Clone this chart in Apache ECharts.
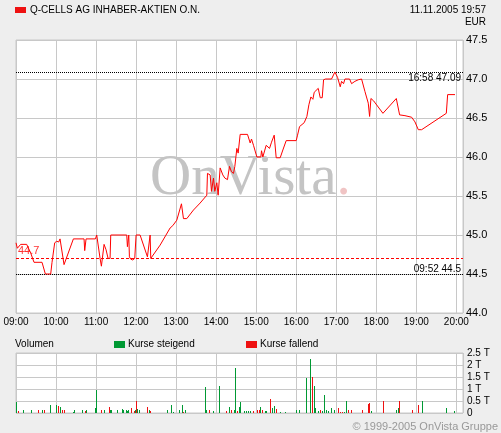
<!DOCTYPE html>
<html><head><meta charset="utf-8">
<script src="https://cdn.jsdelivr.net/npm/echarts@6/dist/echarts.min.js"></script>
<style>html,body{margin:0;padding:0;background:#eeeeee;}#c{width:501px;height:433px;}</style>
</head><body><div id="c"></div>
<script>
// minutes after 09:00
const priceTimes = [0,2,7,16,22,27,39,44,52,54,58,61,64,66,72,86,102,103,105,119,121,126,128,132,135,138,141,142,166,167,169,170,172,175,178,180,186,197,201,202,216,231,235,241,248,251,256,266,276,286,287,291,293,296,298,301,303,306,310,313,317,320,323,326,328,331,333,336,347,351,353,356,361,367,368,370,375,380,383,387,389,390,396,400,405,420,422,425,432,436,439,442,444,445,447,453,456,459,461,464,473,478,482,486,488,491,493,500,503,508,513,518,523,528,530,532,536,550,570,575,583,593,598,603,608,645,647,658];
const prices = [44.90,44.83,44.88,44.88,44.77,44.65,44.65,44.50,44.50,44.65,44.90,44.92,44.91,44.95,44.62,44.95,44.95,44.80,44.95,44.95,45.00,44.70,44.60,44.88,44.81,44.70,44.70,45.00,45.00,44.85,45.00,44.72,44.69,44.68,44.70,45.00,45.00,44.72,45.00,44.70,44.87,45.09,45.12,45.19,45.40,45.21,45.21,45.32,45.41,45.51,45.79,45.77,45.56,45.73,45.56,45.67,45.51,45.86,45.77,45.73,45.71,45.88,45.81,45.79,45.88,46.11,46.05,46.29,46.29,46.18,46.23,46.15,46.00,46.00,46.08,46.00,46.15,46.11,46.19,46.28,46.26,45.99,45.99,46.09,46.21,46.21,46.28,46.39,46.44,46.52,46.67,46.77,46.79,46.74,46.83,46.88,46.76,46.76,46.99,47.00,47.00,47.09,47.02,46.90,46.97,46.94,47.00,47.00,46.94,46.97,46.99,47.00,46.84,46.69,46.52,46.75,46.72,46.56,46.75,46.54,46.53,46.51,46.45,46.35,46.35,46.56,46.80,46.80];
const upTimes = [0,11,23,39,51,60,66,86,87,99,105,119,120,132,141,143,152,159,161,165,167,168,179,182,185,200,227,233,236,245,249,254,284,285,296,305,320,327,329,335,337,343,346,349,352,366,374,375,384,385,387,396,404,421,425,435,441,447,449,453,459,462,465,468,469,473,477,492,495,533,570,573,609,645,657];
const upVols = [0.45,0.14,0.14,0.14,0.35,0.35,0.25,0.06,0.14,0.14,0.14,0.22,0.94,0.14,0.11,0.14,0.14,0.18,0.14,0.14,0.08,0.11,0.14,0.18,0.14,0.14,0.14,0.35,0.06,0.14,0.35,0.14,1.07,0.14,0.10,1.14,0.27,0.14,1.86,0.27,0.45,0.10,0.10,0.10,0.10,0.25,0.10,0.10,0.21,0.10,0.31,0.06,0.06,0.14,0.14,1.44,2.27,1.14,0.21,0.10,0.07,0.73,0.14,0.07,0.10,0.21,0.14,0.06,0.52,0.10,0.14,0.21,0.52,0.21,0.10];
const downTimes = [3,33,42,63,69,72,104,128,140,173,177,180,197,201,251,290,315,323,332,356,362,365,369,382,390,391,444,456,484,486,489,499,503,519,528,530,551,575,595,603];
const downVols = [0.07,0.14,0.14,0.28,0.11,0.14,0.07,0.14,0.27,0.22,0.07,0.49,0.27,0.10,0.06,0.14,0.10,0.14,0.10,0.07,0.11,0.14,0.14,0.60,0.14,0.17,1.48,0.14,0.21,0.06,0.06,0.14,0.14,0.14,0.39,0.42,0.52,0.49,0.14,0.35];
const hourLabels = ['09:00','10:00','11:00','12:00','13:00','14:00','15:00','16:00','17:00','18:00','19:00','20:00'];
const volLabels = ['0','0.5 T','1 T','1.5 T','2 T','2.5 T'];
const highTime = '16:58', highValue = 47.09;
const lowTime = '09:52', lowValue = 44.5;
const prevClose = 44.7;
const title = 'Q-CELLS AG INHABER-AKTIEN O.N.';
const stamp = '11.11.2005 19:57';
const currency = 'EUR';

const FONT = '"Liberation Sans", Arial, sans-serif';
const zip = (a, b) => a.map((v, i) => [v, b[i]]);
const chart = echarts.init(document.getElementById('c'));
const txt = (x, y, text, size, color, align, extra) => Object.assign({
  type: 'text', x: x, y: y, z: 10,
  style: { text: text, fill: color, font: size + 'px ' + FONT, align: align, verticalAlign: 'middle', textAlign: align, textVerticalAlign: 'middle' }
}, extra || {});
const barItem = color => (params, api) => {
  const top = api.coord([api.value(0), api.value(1)]);
  const base = api.coord([api.value(0), 0]);
  const x = Math.floor(top[0]);
  const y = Math.round(top[1]);
  const h = Math.max(1, Math.round(base[1]) - y);
  return { type: 'rect', shape: { x: x, y: y, width: 1, height: h }, style: { fill: color } };
};

chart.setOption({
  backgroundColor: '#eeeeee',
  animation: false,
  grid: [
    { left: 16, top: 40, width: 447, height: 273, show: true, backgroundColor: '#ffffff', borderColor: '#c8c8c8', borderWidth: 1 },
    { left: 16, top: 353, width: 447, height: 60, show: true, backgroundColor: '#ffffff', borderColor: '#c8c8c8', borderWidth: 1 }
  ],
  xAxis: [
    { type: 'value', gridIndex: 0, min: 0, max: 670, interval: 60,
      axisLine: { show: false }, axisTick: { show: false },
      splitLine: { lineStyle: { color: '#c8c8c8', width: 1 } },
      axisLabel: { margin: 4, fontSize: 10, color: '#000', fontFamily: FONT,
        formatter: v => (v % 60 === 0 ? hourLabels[v / 60] : '') } },
    { type: 'value', gridIndex: 1, min: 0, max: 670, interval: 60,
      axisLine: { show: false }, axisTick: { show: false }, axisLabel: { show: false },
      splitLine: { lineStyle: { color: '#c8c8c8', width: 1 } } }
  ],
  yAxis: [
    { type: 'value', gridIndex: 0, position: 'right', min: 44, max: 47.5, interval: 0.5,
      axisLine: { show: false }, axisTick: { show: false },
      splitLine: { lineStyle: { color: '#c8c8c8', width: 1 } },
      axisLabel: { margin: 3, fontSize: 11, color: '#000', fontFamily: FONT, formatter: v => v.toFixed(1) } },
    { type: 'value', gridIndex: 1, position: 'right', min: 0, max: 2.5, interval: 0.5,
      axisLine: { show: false }, axisTick: { show: false },
      splitLine: { lineStyle: { color: '#c8c8c8', width: 1 } },
      axisLabel: { margin: 4, fontSize: 10, color: '#000', fontFamily: FONT, formatter: v => volLabels[Math.round(v * 2)] } }
  ],
  series: [
    { type: 'line', name: title, xAxisIndex: 0, yAxisIndex: 0, data: zip(priceTimes, prices),
      showSymbol: false, symbol: 'none', lineStyle: { color: '#ff0000', width: 1 }, z: 5,
      markLine: { silent: true, symbol: 'none', animation: false,
        data: [
          { yAxis: highValue, lineStyle: { color: '#000', type: 'dotted', width: 1 },
            label: { show: true, position: 'insideEndBottom', distance: [2, 1], formatter: highTime + ' ' + highValue.toFixed(2), color: '#000', fontSize: 10, fontFamily: FONT } },
          { yAxis: lowValue, lineStyle: { color: '#000', type: 'dotted', width: 1 },
            label: { show: true, position: 'insideEndTop', distance: [2, 0], formatter: lowTime + ' ' + lowValue.toFixed(1), color: '#000', fontSize: 10, fontFamily: FONT } },
          { yAxis: prevClose, lineStyle: { color: '#ff0000', type: [3, 2], width: 1 },
            label: { show: true, position: 'insideStartTop', distance: [2, 2], formatter: prevClose.toFixed(1), color: '#ff3333', fontSize: 11, fontFamily: FONT } }
        ] } },
    { type: 'custom', name: 'Kurse steigend', xAxisIndex: 1, yAxisIndex: 1, data: zip(upTimes, upVols),
      encode: { x: 0, y: 1 }, renderItem: barItem('#009933'), z: 5 },
    { type: 'custom', name: 'Kurse fallend', xAxisIndex: 1, yAxisIndex: 1, data: zip(downTimes, downVols),
      encode: { x: 0, y: 1 }, renderItem: barItem('#ee1111'), z: 5 }
  ],
  graphic: [
    { type: 'rect', x: 15, y: 7, shape: { width: 11, height: 6 }, style: { fill: '#ee1111' }, z: 10 },
    txt(30, 10, title, 10, '#000', 'left'),
    txt(486, 10, stamp, 10, '#000', 'right'),
    txt(486, 22, currency, 10, '#000', 'right'),
    { type: 'text', x: 150, y: 179, z: 1,
      style: { text: '{a|OnVista}{b|.}', rich: { a: { fill: '#c4c4c4', color: '#c4c4c4', font: '57px "Liberation Serif", serif' }, b: { fill: '#f0c4c4', color: '#f0c4c4', font: '57px "Liberation Serif", serif' } },
        verticalAlign: 'middle', textVerticalAlign: 'middle', align: 'left', textAlign: 'left' } },
    txt(15, 344, 'Volumen', 10, '#000', 'left'),
    { type: 'rect', x: 114, y: 341, shape: { width: 11, height: 7 }, style: { fill: '#009933' }, z: 10 },
    txt(128, 344, 'Kurse steigend', 10, '#000', 'left'),
    { type: 'rect', x: 246, y: 341, shape: { width: 11, height: 7 }, style: { fill: '#ee1111' }, z: 10 },
    txt(260, 344, 'Kurse fallend', 10, '#000', 'left'),
    txt(498, 427, '\u00a9 1999-2005 OnVista Gruppe', 11, '#999999', 'right')
  ]
});
</script></body></html>
